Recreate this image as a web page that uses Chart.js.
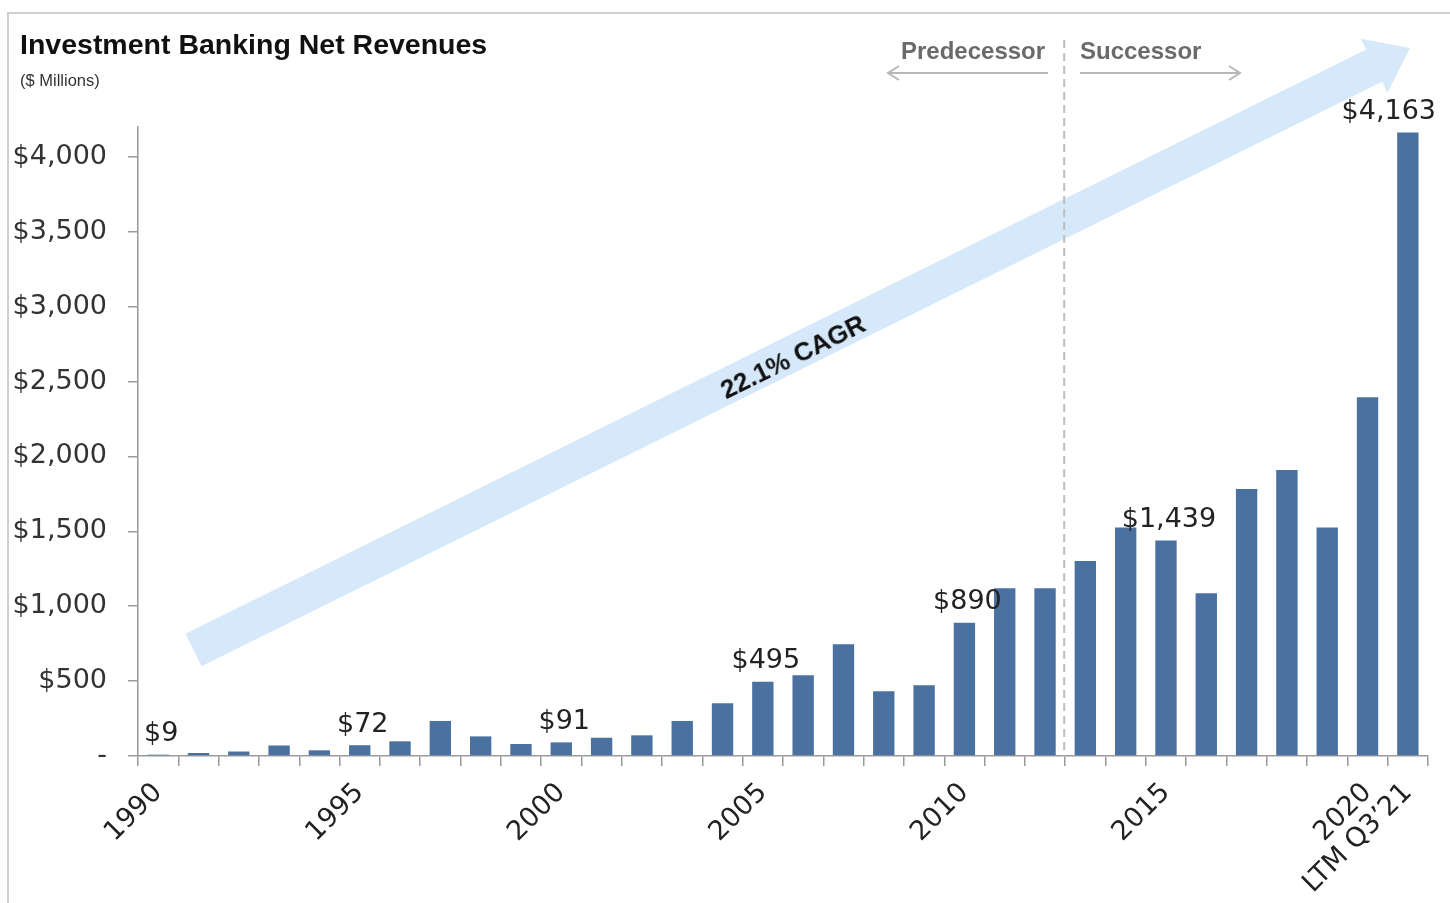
<!DOCTYPE html>
<html>
<head>
<meta charset="utf-8">
<script src="https://cdn.jsdelivr.net/npm/chart.js@4.4.1/dist/chart.umd.min.js"></script>
<style>
  html, body { margin: 0; padding: 0; background: #fff; }
  #wrap { position: relative; width: 1450px; height: 903px; overflow: hidden; }
  #frame { position: absolute; left: 7px; top: 12px; width: 1460px; height: 900px; border-left: 2px solid #cfcfcf; border-top: 2px solid #cfcfcf; box-sizing: border-box; }
  canvas { position: absolute; left: 0; top: 0; }
  .txt { position: absolute; white-space: nowrap; font-family: "Liberation Sans", Arial, sans-serif; }
  #title { left: 20px; top: 28px; font-size: 28.5px; font-weight: bold; color: #111; }
  #subtitle { left: 20px; top: 71px; font-size: 16.5px; color: #333; }
  #pred { left: 901px; top: 37px; font-size: 24px; font-weight: bold; color: #6a6a6a; }
  #succ { left: 1080px; top: 37px; font-size: 24px; font-weight: bold; color: #6a6a6a; }
  #cagr { left: 793px; top: 357px; font-size: 26px; font-weight: bold; color: #111; transform: translate(-50%, -50%) rotate(-26.2deg); }
</style>
</head>
<body>
<div id="wrap">
  <div id="frame"></div>
  <canvas id="c" width="1450" height="903"></canvas>
  <div class="txt" id="title">Investment Banking Net Revenues</div>
  <div class="txt" id="subtitle">($ Millions)</div>
  <div class="txt" id="pred">Predecessor</div>
  <div class="txt" id="succ">Successor</div>
  <div class="txt" id="cagr">22.1% CAGR</div>
</div>
<script>
const years = ['1990','1991','1992','1993','1994','1995','1996','1997','1998','1999',
               '2000','2001','2002','2003','2004','2005','2006','2007','2008','2009',
               '2010','2011','2012','2013','2014','2015','2016','2017','2018','2019',
               '2020','LTM Q3\u201921'];
const revenues = [9, 20, 30, 70, 38, 72, 98, 234, 131, 80,
                  91, 122, 138, 234, 352, 495, 539, 746, 432, 472,
                  890, 1120, 1120, 1302, 1525, 1439, 1087, 1783, 1910, 1525,
                  2395, 4163];
const shownTickLabels = ['1990','1995','2000','2005','2010','2015','2020','LTM Q3\u201921'];
const valueLabelCategories = ['1990','1995','2000','2005','2010','2015','LTM Q3\u201921'];
const yTickValues = [0, 500, 1000, 1500, 2000, 2500, 3000, 3500, 4000];
const dividerAfter = '2012';

const LABEL_FONT = '27px "DejaVu Sans", sans-serif';

function fmtMoney(v) { return '$' + v.toLocaleString('en-US'); }

const decorPlugin = {
  id: 'decor',
  beforeDatasetsDraw(chart) {
    const ctx = chart.ctx;
    // big CAGR arrow
    const x0 = 193.5, y0 = 650, x1 = 1410, y1 = 48;
    const ang = Math.atan2(y1 - y0, x1 - x0);
    const len = Math.hypot(x1 - x0, y1 - y0);
    const sw = 36, hw = 60, hl = 40;
    ctx.save();
    ctx.translate(x0, y0);
    ctx.rotate(ang);
    ctx.beginPath();
    ctx.moveTo(0, -sw / 2);
    ctx.lineTo(len - hl, -sw / 2);
    ctx.lineTo(len - hl, -hw / 2);
    ctx.lineTo(len, 0);
    ctx.lineTo(len - hl, hw / 2);
    ctx.lineTo(len - hl, sw / 2);
    ctx.lineTo(0, sw / 2);
    ctx.closePath();
    ctx.fillStyle = '#d5e9fb';
    ctx.fill();
    ctx.restore();

    // predecessor / successor divider
    const xs = chart.scales.x;
    const i = years.indexOf(dividerAfter);
    const dx = (xs.getPixelForValue(i) + xs.getPixelForValue(i + 1)) / 2 - 1;
    ctx.save();
    ctx.strokeStyle = '#bdbdbd';
    ctx.lineWidth = 2;
    ctx.setLineDash([8, 5]);
    ctx.beginPath();
    ctx.moveTo(dx, 40);
    ctx.lineTo(dx, chart.chartArea.bottom);
    ctx.stroke();
    ctx.setLineDash([]);
    // arrows
    ctx.strokeStyle = '#b8b8b8';
    ctx.lineWidth = 2;
    const ay = 73;
    ctx.beginPath();
    ctx.moveTo(888, ay); ctx.lineTo(1048, ay);
    ctx.moveTo(899, ay - 7); ctx.lineTo(888, ay); ctx.lineTo(899, ay + 7);
    ctx.moveTo(1080, ay); ctx.lineTo(1240, ay);
    ctx.moveTo(1229, ay - 7); ctx.lineTo(1240, ay); ctx.lineTo(1229, ay + 7);
    ctx.stroke();
    ctx.restore();
  },
  afterDraw(chart) {
    const ctx = chart.ctx;
    const meta = chart.getDatasetMeta(0);
    ctx.save();
    ctx.font = LABEL_FONT;
    ctx.fillStyle = '#222';
    ctx.textBaseline = 'bottom';
    ctx.textAlign = 'center';
    valueLabelCategories.forEach(cat => {
      const idx = years.indexOf(cat);
      const bar = meta.data[idx];
      const txt = fmtMoney(revenues[idx]);
      const w = ctx.measureText(txt).width;
      let cx = bar.x + 3;
      if (cx + w / 2 > 1436) cx = 1436 - w / 2;
      ctx.fillText(txt, cx, bar.y - 7);
    });
    ctx.restore();
  }
};

new Chart(document.getElementById('c'), {
  type: 'bar',
  data: {
    labels: years,
    datasets: [{
      data: revenues,
      backgroundColor: '#4a71a0',
      borderWidth: 0,
      barPercentage: 0.53,
      categoryPercentage: 1.0
    }]
  },
  options: {
    responsive: false,
    animation: false,
    devicePixelRatio: 1,
    layout: { padding: { left: 0, top: 127, right: 22, bottom: 0 } },
    plugins: { legend: { display: false }, tooltip: { enabled: false }, title: { display: false } },
    scales: {
      x: {
        offset: true,
        grid: { offset: true, drawOnChartArea: false, drawTicks: true, tickLength: 10, color: '#9a9a9a', lineWidth: 1.5 },
        border: { display: true, color: '#9a9a9a', width: 1.5 },
        ticks: {
          autoSkip: false,
          maxRotation: 45,
          minRotation: 45,
          padding: 11,
          color: '#222',
          font: { family: '"DejaVu Sans", sans-serif', size: 27 },
          callback: function(value, index) {
            const lab = years[index];
            return shownTickLabels.includes(lab) ? lab : '';
          }
        },
        afterFit: s => { s.height = 147; }
      },
      y: {
        min: 0,
        max: 4200,
        grid: { drawOnChartArea: false, drawTicks: true, tickLength: 10, color: '#9a9a9a', lineWidth: 1.5 },
        border: { display: true, color: '#9a9a9a', width: 1.5 },
        afterBuildTicks: s => { s.ticks = yTickValues.map(v => ({ value: v })); },
        ticks: {
          padding: 21,
          color: '#333',
          font: { family: '"DejaVu Sans", sans-serif', size: 27 },
          callback: v => v === 0 ? '-' : fmtMoney(v)
        },
        afterFit: s => { s.width = 138; }
      }
    }
  },
  plugins: [decorPlugin]
});
</script>
</body>
</html>
